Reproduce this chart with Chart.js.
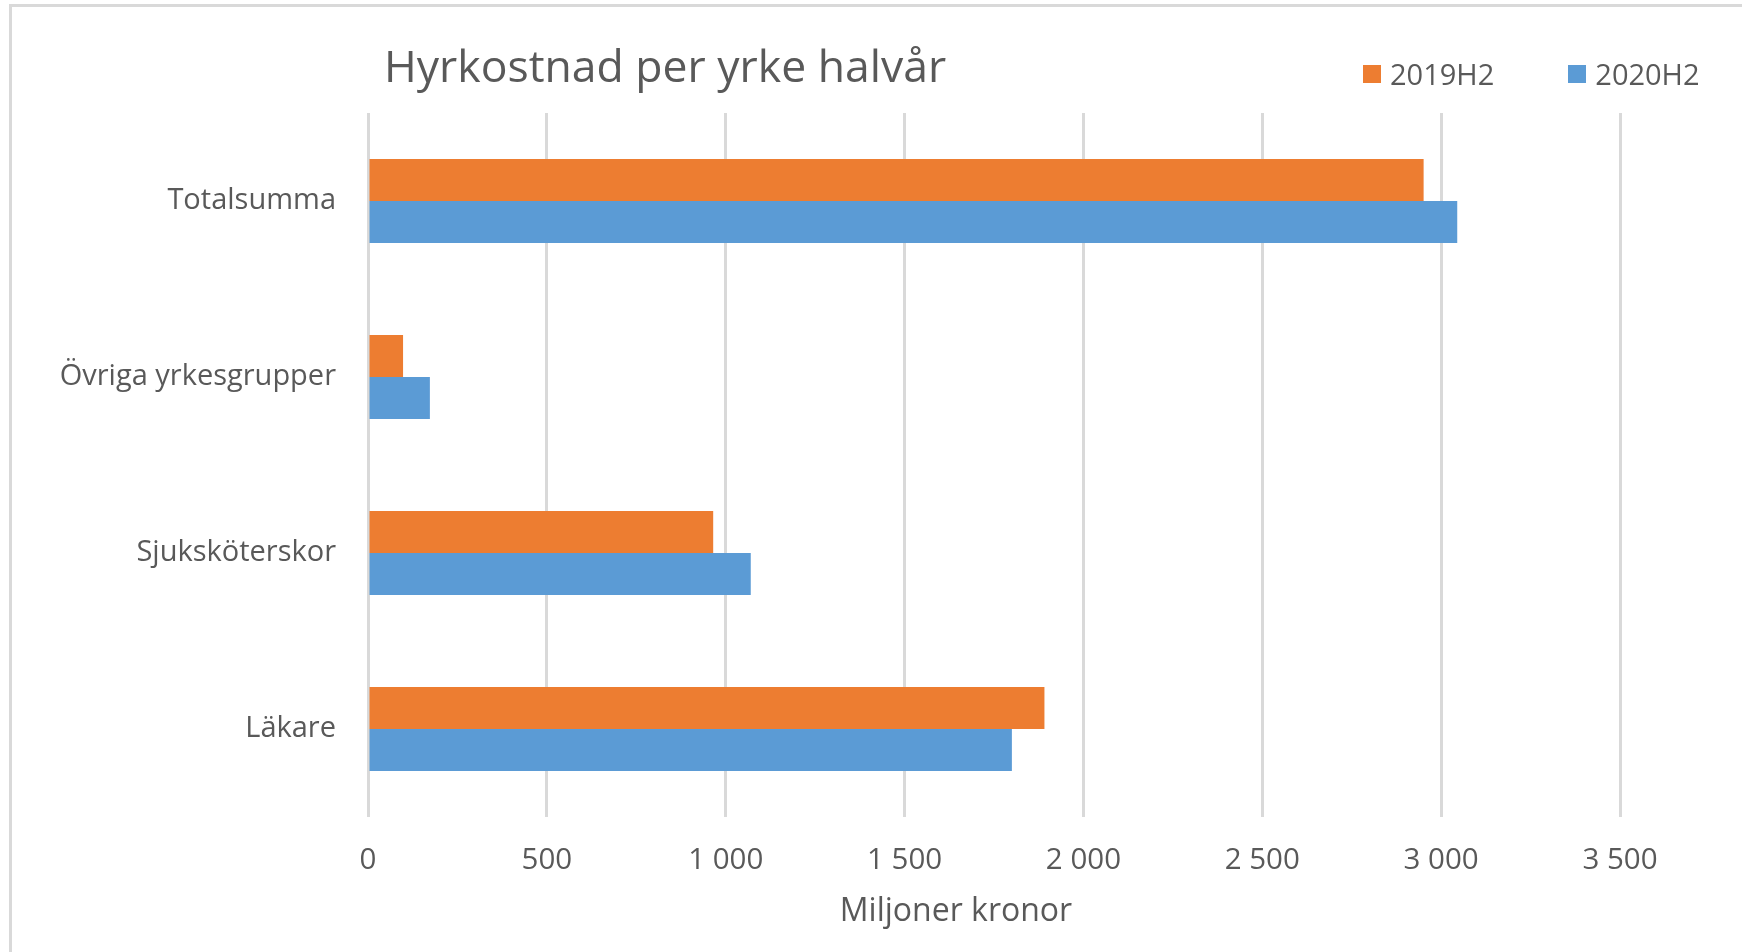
<!DOCTYPE html>
<html>
<head>
<meta charset="utf-8">
<script src="https://cdn.jsdelivr.net/npm/chart.js@4.4.0/dist/chart.umd.min.js"></script>
<style>
    body { margin: 0; background: #fff; font-family: 'Open Sans', sans-serif; }
    #wrap { position: relative; width: 1742px; height: 952px; overflow: hidden; }
    #frame {
        position: absolute; left: 9px; top: 4px; width: 1800px; height: 1000px;
        border-left: 3px solid #d9d9d9; border-top: 3px solid #d9d9d9;
    }
    #title {
        position: absolute; left: 384px; top: 35px;
        font-size: 44.5px; line-height: 60px; color: #595959;
    }
    #legend {
        position: absolute; left: 1363px; top: 55px;
        display: flex; align-items: center; font-size: 29px; line-height: 38px; color: #595959;
    }
    .item { display: flex; align-items: center; margin-right: 74px; }
    .swatch { width: 18px; height: 18px; margin-right: 9px; }
    #xTitle {
        position: absolute; left: 956px; top: 887px; transform: translateX(-50%);
        font-size: 32px; line-height: 44px; color: #595959; white-space: nowrap;
    }
    canvas { position: absolute; left: 0; top: 0; }
</style>
</head>
<body>
<div id="wrap">
    <div id="frame"></div>
    <canvas id="myChart" width="1742" height="952"></canvas>
    <div id="title">Hyrkostnad per yrke halvår</div>
    <div id="legend"></div>
    <div id="xTitle">Miljoner kronor</div>
</div>
<script>
// data
const categories = ['Totalsumma', 'Övriga yrkesgrupper', 'Sjuksköterskor', 'Läkare'];
const series2019 = [2951, 98, 965, 1891];
const series2020 = [3045, 173, 1070, 1800];
const xTickLabels = ['0', '500', '1 000', '1 500', '2 000', '2 500', '3 000', '3 500'];

const orange = '#ED7D31';
const blue = '#5B9BD5';
const textGray = '#595959';

Chart.defaults.font.family = "'Open Sans', sans-serif";
Chart.defaults.color = textGray;

const datasets = [
    { label: '2019H2', data: series2019, backgroundColor: orange },
    { label: '2020H2', data: series2020, backgroundColor: blue }
];

// legend in html, from the datasets
const legend = document.getElementById('legend');
datasets.forEach(ds => {
    const item = document.createElement('div');
    item.className = 'item';
    const sw = document.createElement('span');
    sw.className = 'swatch';
    sw.style.background = ds.backgroundColor;
    const txt = document.createElement('span');
    txt.textContent = ds.label;
    item.appendChild(sw);
    item.appendChild(txt);
    legend.appendChild(item);
});

const ctx = document.getElementById('myChart').getContext('2d');
const chart = new Chart(ctx, {
    type: 'bar',
    data: {
        labels: categories,
        datasets: datasets.map(ds => ({
            ...ds,
            categoryPercentage: 0.477,
            barPercentage: 1.0
        }))
    },
    options: {
        indexAxis: 'y',
        responsive: false,
        animation: false,
        layout: {
            padding: { left: 0, right: 122, top: 113, bottom: 0 }
        },
        plugins: {
            legend: { display: false },
            title: { display: false },
            tooltip: { enabled: false }
        },
        scales: {
            x: {
                min: 0,
                max: 3500,
                ticks: {
                    stepSize: 500,
                    padding: 26,
                    font: { size: 29.5 },
                    color: textGray,
                    callback: function (value, index) {
                        return xTickLabels[index];
                    }
                },
                grid: { color: '#d9d9d9', lineWidth: 3, drawTicks: false },
                border: { display: false },
                afterFit: function (scale) {
                    scale.height = 135;
                }
            },
            y: {
                ticks: {
                    padding: 32,
                    font: { size: 29 },
                    color: textGray
                },
                grid: { display: false, drawTicks: false },
                border: { display: false },
                afterFit: function (scale) {
                    scale.width = 368;
                }
            }
        }
    }
});
</script>
</body>
</html>
